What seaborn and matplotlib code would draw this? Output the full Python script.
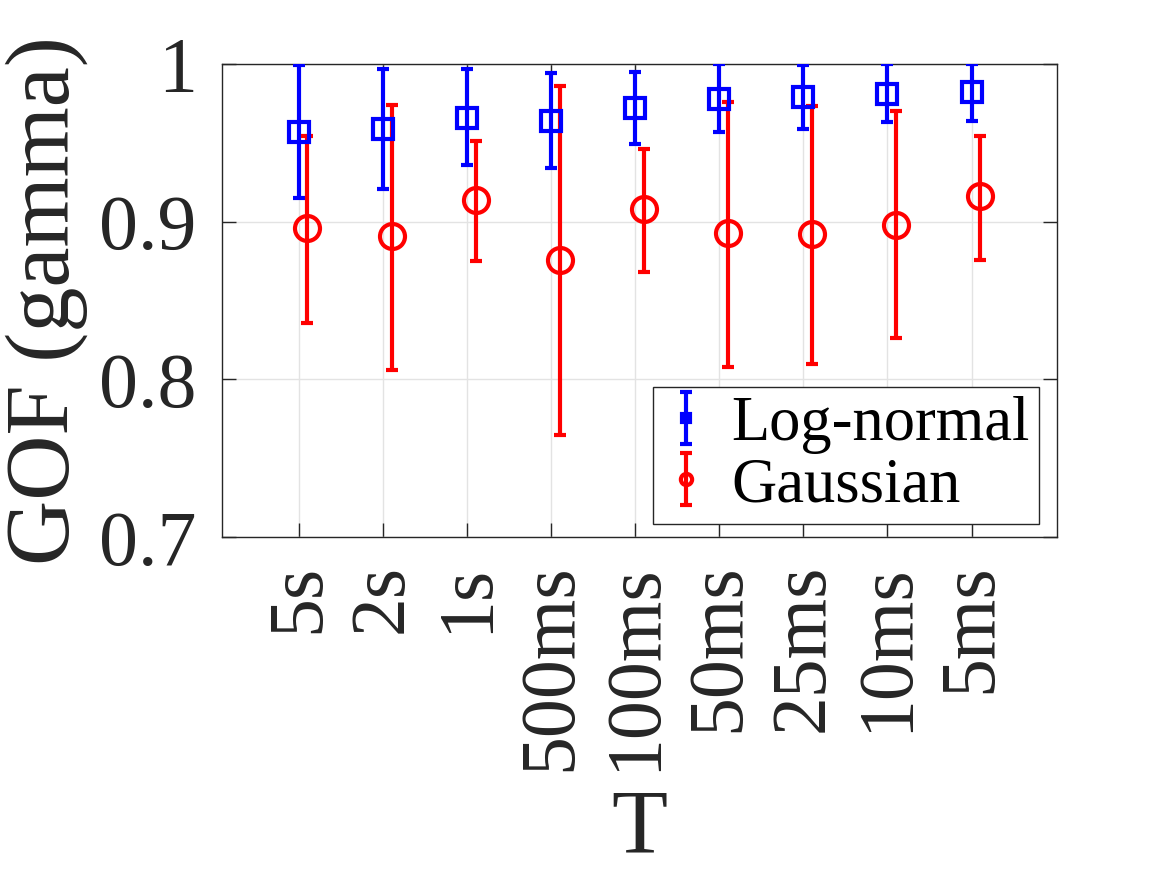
import matplotlib
matplotlib.use("Agg")
import matplotlib.pyplot as plt
from matplotlib.legend_handler import HandlerErrorbar
from matplotlib.container import ErrorbarContainer
import numpy as np
import pandas as pd
import seaborn as sns


periods = ["5s", "2s", "1s", "500ms", "100ms", "50ms", "25ms", "10ms", "5ms"]

lognormal_mean = [0.957, 0.959, 0.966, 0.964, 0.972, 0.978, 0.979, 0.981, 0.982]
lognormal_upper = [0.999, 0.997, 0.997, 0.994, 0.995, 1.000, 0.999, 1.000, 1.000]
lognormal_lower = [0.915, 0.921, 0.936, 0.934, 0.949, 0.957, 0.959, 0.963, 0.964]

gaussian_mean = [0.896, 0.891, 0.914, 0.876, 0.908, 0.893, 0.892, 0.898, 0.916]
gaussian_upper = [0.954, 0.974, 0.951, 0.986, 0.946, 0.976, 0.973, 0.970, 0.954]
gaussian_lower = [0.836, 0.806, 0.875, 0.765, 0.868, 0.808, 0.810, 0.826, 0.876]


def build_table():
    df = pd.DataFrame({"period": periods})
    df["pos"] = np.arange(1, len(periods) + 1)
    df["ln_mean"] = lognormal_mean
    df["ln_up"] = lognormal_upper
    df["ln_lo"] = lognormal_lower
    df["ga_mean"] = gaussian_mean
    df["ga_up"] = gaussian_upper
    df["ga_lo"] = gaussian_lower
    return df


def create_chart(df):
    sns.set_theme(style="whitegrid")
    plt.rcParams["font.family"] = "serif"
    plt.rcParams["font.serif"] = ["Liberation Serif", "DejaVu Serif"]
    plt.rcParams["mathtext.fontset"] = "stix"
    text_color = "#262626"

    fig = plt.figure(figsize=(11.67, 8.75), dpi=100)
    ax = fig.add_axes([0.190, 0.386, 0.716, 0.541])

    common = dict(elinewidth=3, capsize=4, capthick=3, mew=3, zorder=3)
    ax.errorbar(
        df["pos"],
        df["ln_mean"],
        yerr=[df["ln_mean"] - df["ln_lo"], df["ln_up"] - df["ln_mean"]],
        fmt="s",
        color="#0000ff",
        mfc="none",
        ms=14,
        label="Log-normal",
        **common,
    )
    ax.errorbar(
        df["pos"] + 0.1,
        df["ga_mean"],
        yerr=[df["ga_mean"] - df["ga_lo"], df["ga_up"] - df["ga_mean"]],
        fmt="o",
        color="#ff0000",
        mfc="none",
        ms=18,
        label="Gaussian",
        **common,
    )

    ax.set_xlim(0.08, 10.02)
    ax.set_ylim(0.7, 1.0)
    ax.set_yticks([0.7, 0.8, 0.9, 1.0])
    ax.set_yticklabels(["0.7", "0.8", "0.9", "1"])
    ax.set_xticks(df["pos"])
    ax.set_xticklabels(df["period"], rotation=90)

    ax.set_facecolor("white")
    ax.grid(True, color="#e3e3e3", linewidth=1.0)
    for spine in ax.spines.values():
        spine.set_color(text_color)
        spine.set_linewidth(1.0)
        spine.set_visible(True)

    ax.tick_params(
        axis="both",
        direction="in",
        length=10,
        width=1.0,
        color=text_color,
        labelsize=56,
        labelcolor=text_color,
        top=True,
        right=True,
        bottom=True,
        left=True,
        pad=18,
    )
    ax.tick_params(axis="x", pad=19)

    ax.set_xlabel("T", fontsize=66, color=text_color, labelpad=13)
    ax.set_ylabel("GOF (gamma)", fontsize=65, color=text_color, labelpad=8)

    legend = ax.legend(
        loc="lower right",
        bbox_to_anchor=(0.978, 0.027),
        borderaxespad=0,
        fontsize=45,
        frameon=True,
        fancybox=False,
        framealpha=1,
        edgecolor=text_color,
        handlelength=0.75,
        handletextpad=0.35,
        borderpad=0.15,
        labelspacing=0.05,
        markerscale=0.45,
        handler_map={ErrorbarContainer: HandlerErrorbar(yerr_size=0.42)},
    )
    legend.get_frame().set_linewidth(1.0)
    for text in legend.get_texts():
        text.set_color("black")

    fig.savefig("out.png", dpi=100)
    plt.close(fig)


def main():
    df = build_table()
    create_chart(df)


if __name__ == "__main__":
    main()
